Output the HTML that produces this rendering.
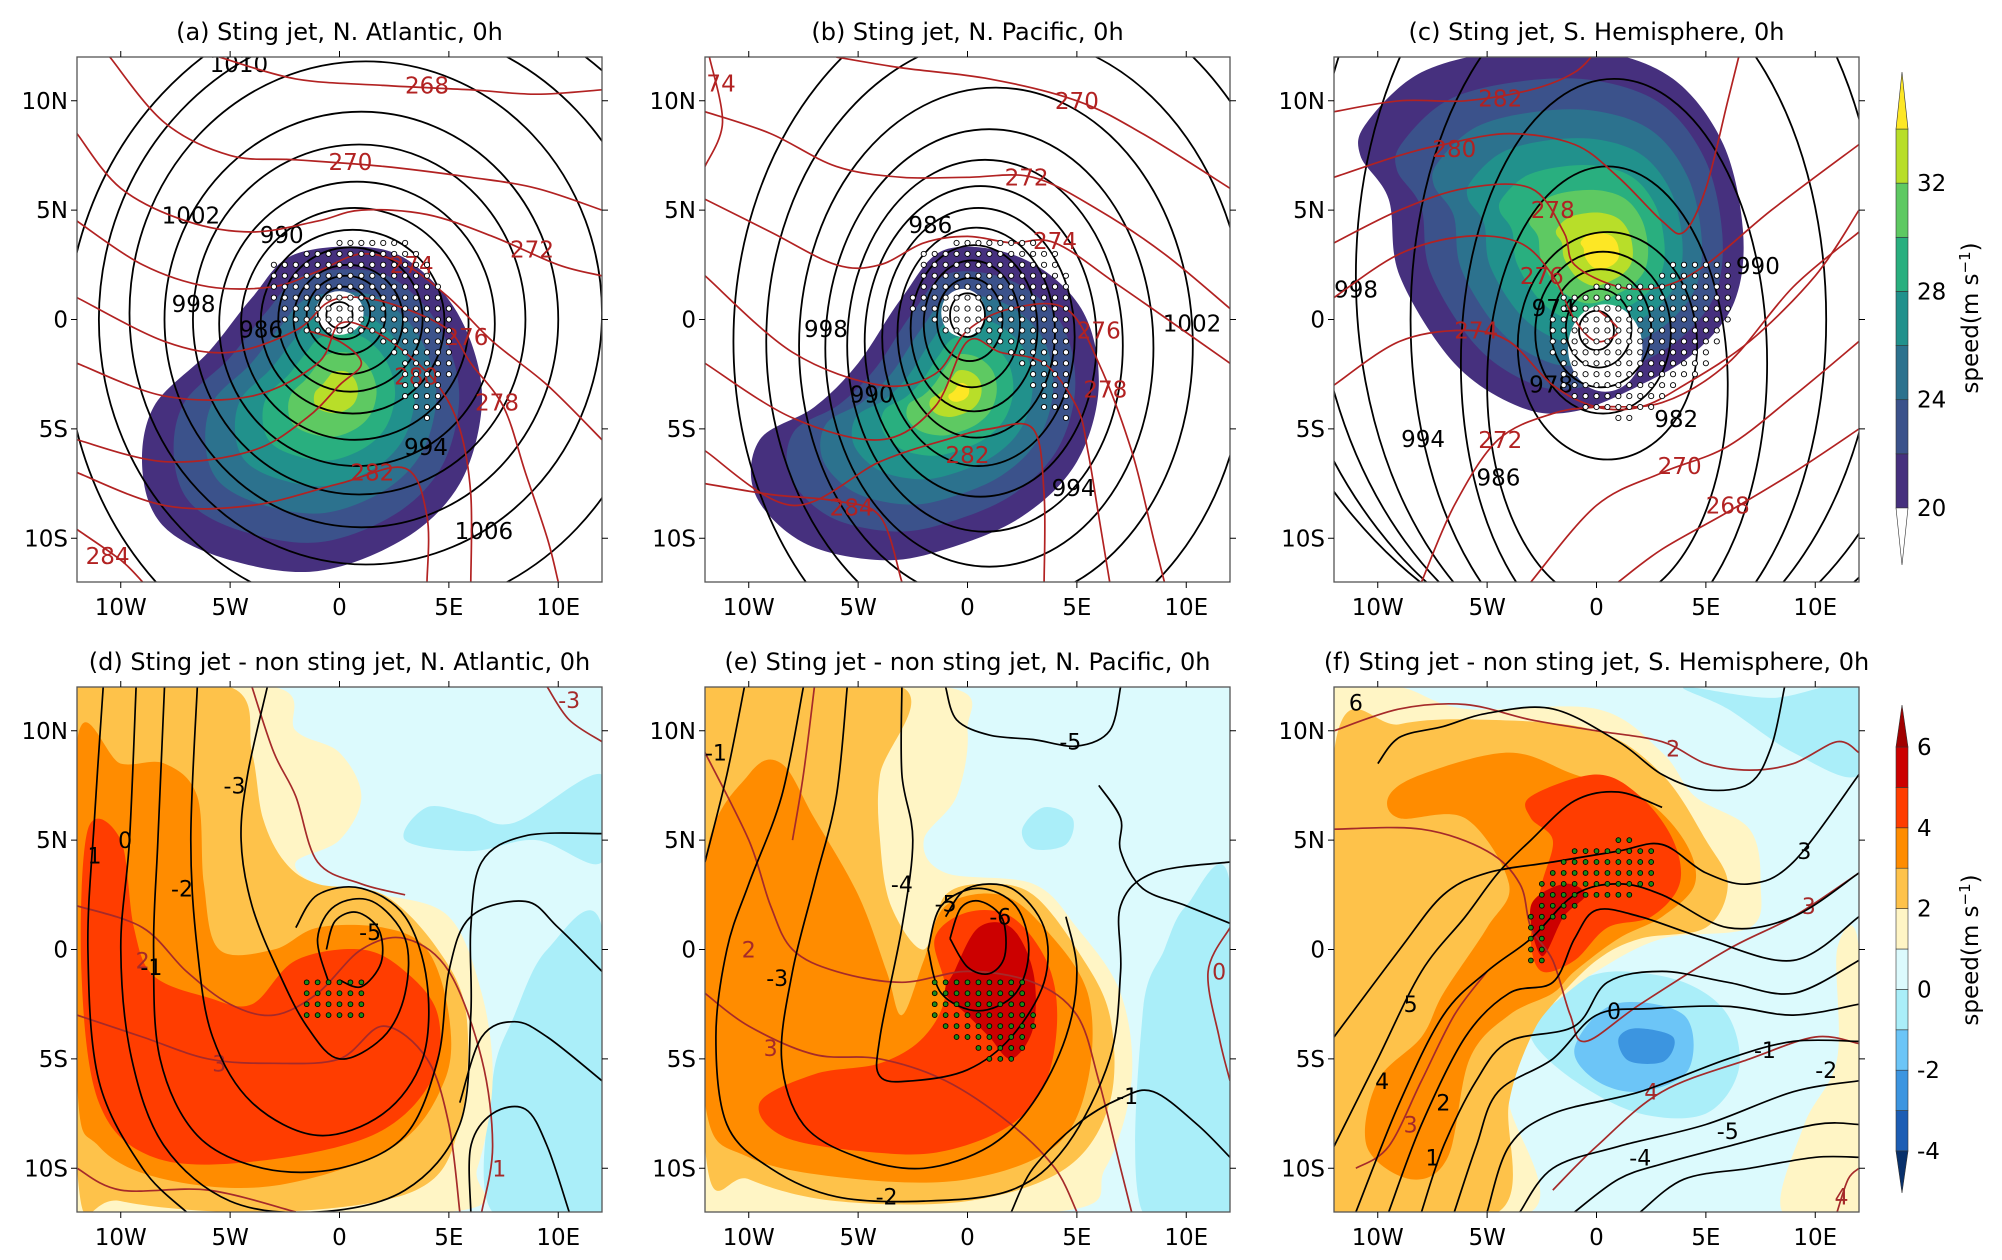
<!DOCTYPE html>
<html><head><meta charset="utf-8">
<style>
html,body{margin:0;padding:0;background:#fff;}
svg{display:block;font-family:"DejaVu Sans","Liberation Sans",sans-serif;}
</style></head>
<body>
<svg id="fig" width="2002" height="1260" viewBox="0 0 2002 1260" xmlns="http://www.w3.org/2000/svg"></svg>
<script>
// ---------- DATA ----------
const xTickVals = [-10,-5,0,5,10];
const xTickLabels = ['10W','5W','0','5E','10E'];
const yTickVals = [10,5,0,-5,-10];
const yTickLabels = ['10N','5N','0','5S','10S'];

const speedLevels = [20,22,24,26,28,30,32];
const speedColors = ['#46307e','#3b528b','#2c728e','#21918c','#29af7f','#5ec962','#b8de29','#fde725'];
const speedTickVals = [20,24,28,32];

const diffLevels = [-4,-3,-2,-1,0,1,2,3,4,5];
const diffColors = ['#1c5db4','#3c95e0','#6cc5f7','#aaeef9','#dcfafd','#fff5c5','#fec24a','#ff8c00','#ff3d00','#cc0000'];
const diffTickVals = [-4,-2,0,2,4,6];

const titles = ['(a) Sting jet, N. Atlantic, 0h','(b) Sting jet, N. Pacific, 0h','(c) Sting jet, S. Hemisphere, 0h',
 '(d) Sting jet - non sting jet, N. Atlantic, 0h','(e) Sting jet - non sting jet, N. Pacific, 0h','(f) Sting jet - non sting jet, S. Hemisphere, 0h'];

const aOutline = [[-2,3],[2,3.2],[4.5,1.5],[6,-1],[6.5,-4],[5.5,-7.5],[3,-10],[-1,-11.5],[-5,-11],[-8,-9.5],[-9,-7],[-8.5,-4],[-6,-1.5],[-4,1]];
const aCore = [0,-3.2];
const aScales = [1,0.84,0.68,0.53,0.39,0.26,0.13];
const aHole = [0,0.3,1.1,1.0];
const bOutline = [[-1,3.2],[2.5,2.8],[5.2,0.5],[6,-3],[5,-6.5],[2.5,-9],[-1,-10.5],[-4,-11],[-7.5,-10.2],[-9.7,-8],[-9.5,-5.5],[-7,-4],[-5,-2],[-3,1]];
const bCore = [-0.3,-3.3];
const bScales = [1,0.83,0.67,0.52,0.38,0.26,0.15,0.06];
const bHole = [-0.2,0.3,1.0,1.1];
const cOutline = [[-10.5,9],[-8,11.3],[-4,12.3],[0,12.3],[3.5,11],[5.8,8],[6.7,4],[6.3,0.8],[4.5,-1.5],[2,-3],[-1,-4.2],[-3.5,-4],[-6.5,-2],[-9,2],[-9.5,5.5],[-10.8,7.5]];
const cCore = [0.4,3.0];
const cScales = [1,0.85,0.7,0.56,0.43,0.31,0.2,0.1];
const cHole = [0.4,-1.3,1.7,2.0];

const aIsobars = [[966,0.6,0.6,0,0.2],[970,1.2,1.2,0.2,0.3],[974,1.8,1.8,0.3,0.2],[978,2.5,2.5,0.4,0],[982,3.3,3.3,0.5,0],[986,4.2,4.2,0.6,-0.1],[990,5.2,5.3,0.7,-0.2],[994,6.3,6.5,0.8,-0.2],[998,7.6,8,0.9,0],[1002,9,9.5,1,0],[1006,10.8,11.5,1.2,0.3],[1010,12.8,13.5,1.8,0],[1014,15,16,2.5,-1]];
const aIsoLabels = [[990,130],[998,175],[986,185],[1002,150],[1006,300],[994,300],[1010,120],[1014,260]];
const bIsobars = [[966,0.8,1.0,0,0.2],[970,1.5,1.9,0.1,0],[974,2.2,2.9,0.2,-0.2],[978,2.9,3.8,0.3,-0.4],[982,3.6,4.8,0.4,-0.6],[986,4.4,5.9,0.5,-0.8],[990,5.3,7.1,0.6,-1],[994,6.3,8.5,0.8,-1.2],[998,7.5,10,1,-1.3],[1002,9,11.8,1.3,-1.2],[1006,11,14,1.8,-1],[1010,13,16.5,2.3,-1]];
const bIsoLabels = [[990,200],[998,175],[994,310],[1002,5],[1006,300],[1010,275],[986,120]];
const cIsobars = [[966,0.8,0.9,0,-0.5],[970,1.5,1.8,0.1,-0.4],[974,2.3,2.7,0.2,-0.4],[978,3.1,3.7,0.3,-0.6],[982,4.1,5.2,0.5,-1.2],[986,5.5,10,0.5,-3],[990,7,13,0.8,-2],[994,9.5,16,1,0],[998,12,18,1,2],[1002,14.5,20,1.5,4],[1006,17,22,2,6],[1010,20,24,3,8]];
const cIsoLabels = [[982,320],[990,20],[986,205],[994,200],[998,182],[1002,130],[978,220],[974,160]];

const aTheta = [
 [268,[4,10.7],[[-5.5,12],[-2,11],[2,10.7],[6,10.5],[9,10.3],[12,10.5]]],
 [270,[0.5,7.2],[[-10.5,12],[-8,9],[-5,7.5],[-2,7.3],[2,7],[6,6.5],[9,6],[12,5]]],
 [272,[8.8,3.2],[[-12,8.5],[-10,6],[-7,4.5],[-4,4],[-1,4.5],[1,5],[4,4.8],[7,3.8],[10,2.5],[12,2]]],
 [274,[3.3,2.5],[[-12,4.5],[-9,2.5],[-6,1.5],[-3,1.5],[-1,2.2],[1,3],[3,2.5],[5,1],[7,-1],[9.5,-3],[12,-5.5]]],
 [276,[5.8,-0.8],[[-12,1],[-8,-1],[-5,-1.5],[-2,-0.5],[-0.5,0.8],[1,1],[3,0.5],[5,-0.5],[6,-2],[7.5,-4],[8.5,-7],[9.5,-10],[10,-12]]],
 [278,[7.2,-3.8],[[-12,-2],[-8,-3.5],[-4,-3.5],[-1,-2],[0,-0.2],[1.5,-0.5],[3,-1.5],[4.5,-3],[5.5,-5],[6,-8],[6,-12]]],
 [280,[3.5,-2.6],[[-12,-5.5],[-8,-6.5],[-4,-6],[-1.5,-4.5],[0,-3],[1,-2],[0,-1],[-1.5,-0.5]]],
 [282,[1.5,-7],[[-12,-7],[-8,-8.5],[-4,-8.5],[0,-7.5],[3,-6.8],[4,-9],[4,-12]]],
 [284,[-10.6,-10.8],[[-12,-9.6],[-10,-11],[-9,-12]]]];
const bTheta = [
 [270,[5,10],[[-6,12],[-3,11.5],[1,11],[5,10],[8,8.5],[12,6]]],
 [272,[2.7,6.5],[[-12,9.5],[-9,8.5],[-6,7],[-3,6.5],[0,6.5],[3,6.5],[6,5],[9,3],[12,0.5]]],
 [274,[4,3.6],[[-12,5.5],[-9,4],[-6,2.5],[-4,2.5],[-2,3.5],[0,3.8],[2,3.5],[4,3.5],[7,1.5],[12,-2]]],
 [276,[6,-0.5],[[-12,2],[-8,-1.5],[-4,-3],[-1.5,-2.5],[0,-0.5],[2,0.5],[4.5,0.5],[6,-2],[7.5,-6],[8.5,-10],[9,-12]]],
 [278,[6.3,-3.2],[[-12,-2],[-8,-4.5],[-4,-5.5],[-1.5,-4],[0,-1],[1.5,-1.5],[3.5,-2],[5,-4],[5.5,-6],[6,-9],[6.5,-12]]],
 [282,[0,-6.2],[[-12,-6],[-8,-8.5],[-4,-6.5],[-1,-5.5],[1,-5],[3,-5],[3.5,-8],[3.5,-12]]],
 [284,[-5.3,-8.6],[[-12,-7.5],[-9,-8],[-6,-8.3],[-4,-9],[-3,-12]]],
 [274,[-11.6,10.8],[[-11.8,12],[-11.2,9],[-12,7]]]];
const cTheta = [
 [268,[6,-8.5],[[12,-5],[9,-7],[6,-8.8],[3,-10.5],[1,-12]]],
 [270,[3.8,-6.7],[[12,-1],[9,-3.5],[6,-5.8],[3,-7],[0,-8.5],[-3,-12]]],
 [272,[-4.4,-5.5],[[12,4],[9,1.5],[6,-2],[3,-3.8],[0,-4],[-2,-4.3],[-4.5,-5.5],[-6.5,-8.5],[-8,-12]]],
 [274,[-5.5,-0.5],[[-12,-3],[-9,-1],[-6,-0.5],[-4,-1],[-2,-3],[0,-4],[2,-4],[4,-3],[7,-1],[10,2],[12,5]]],
 [276,[-2.5,2],[[-12,1],[-9,3],[-6,3.8],[-3.5,3.5],[-2,2],[-1,0],[0,-1],[1,-0.5],[0,0.5]]],
 [278,[-2,5],[[-12,3.5],[-9,5],[-6,6],[-3,6],[-1.5,4],[-1,2.5],[1,1.5],[3,1.5],[5,2.5],[8,5],[12,8]]],
 [280,[-6.5,7.8],[[-12,6.5],[-9,7.5],[-7,8],[-4,8.5],[-1,8],[1,6.5],[3,4.5],[4,4],[5,6],[6,10],[6.5,12]]],
 [282,[-4.4,10.1],[[-12,9.5],[-9,10],[-6,10],[-3,10.5],[-1,11.3],[0,12.3]]]];

const aStip = [[-3,2.6],[0,3.6],[3,3.6],[4.5,2],[5.5,0],[5.2,-2.5],[4.2,-4.8],[3,-3.5],[2.5,-1.5],[1,-0.5],[-1,-0.8],[-2.5,0],[-3,1]];
const bStip = [[-2.2,3.2],[1,3.9],[4,3.4],[5,1],[5,-2],[4.6,-4.6],[3.5,-4],[2.5,-2],[1,-1],[-1,-0.6],[-2.6,0.5]];
const cStip = [[-1.8,1.2],[0,1.6],[2,1.6],[4.3,3],[6.2,3],[6.2,0],[5,-2.2],[3,-3.8],[1.5,-4.6],[-0.5,-4.3],[-1.9,-2.6],[-2.1,-0.5]];
const dStip = [[-1.8,-1.4],[1.2,-1.4],[1.2,-3.1],[-1.8,-3.1]];
const eStip = [[-1.8,-1.3],[2.6,-1.3],[3.3,-3.5],[2.2,-5.1],[0.8,-5.1],[-1.5,-3.2]];
const fStip = [[-3.2,0.2],[-2.8,2.8],[-1.2,4.5],[1.2,5.2],[2.8,4.7],[2.8,2.8],[1,2.2],[-0.8,2.1],[-2,1],[-2.5,-0.6],[-3.2,-0.6]];

const dFills = [
 [3,[[3,5],[4,6.5],[6,6.2],[8,5.8],[12,8],[12,4],[9,5],[6,4.5]]],
 [3,[[7,-12],[7,-6],[8,-3],[9.5,0],[12,1],[12,-12]]],
 [5,[[-12,12],[-3,12],[-2,10],[0,9],[1,7],[0,5],[-2,4],[-1,3],[2,2.5],[5,1.5],[6.5,-2],[7,-6],[6.3,-10],[5,-12],[-12,-12]]],
 [6,[[-12,12],[-5,12],[-4,9],[-3.5,6],[-2.5,4],[-1,3],[2,2.5],[4.5,0],[5.8,-3],[5.5,-8],[3.5,-11],[-3,-12],[-10,-11.5],[-12,-10]]],
 [7,[[-12,9.5],[-10,8.5],[-8,8.5],[-6.5,7],[-6.2,3],[-5.5,0],[-3,0],[-1,1],[2,1],[4,0],[5,-3],[4.8,-6],[2.5,-9],[-3,-10.8],[-8,-10.5],[-11,-9],[-12,-6]]],
 [8,[[-11.5,5.5],[-10,5],[-9.4,1],[-8.5,-1.2],[-6,-2.2],[-4,-2.5],[-2,-0.5],[1,0],[3,-1],[4.5,-3],[4.2,-6],[1.5,-8.5],[-4,-9.7],[-8.5,-9.5],[-11,-7],[-11.8,-1]]]];
const eFills = [
 [3,[[8,-12],[8,-3],[9,0],[10,2],[12,3],[12,-12]]],
 [3,[[2.5,5.5],[3.5,6.5],[4.8,6],[4.5,4.8],[3,4.6]]],
 [5,[[-12,12],[-1,12],[0,10],[-0.5,7],[-2,5],[-1,3.5],[3,3],[5,1],[7,-2],[7.5,-6],[6.3,-10],[4,-12],[-12,-12]]],
 [6,[[-12,12],[-3,12],[-4,8],[-4,5],[-3.5,2],[-2,0],[-1,2.5],[1,3],[3,2.5],[5,0],[6.5,-3],[6.5,-7],[4.5,-10],[0,-11.5],[-6,-11.5],[-10,-10.5],[-12,-9]]],
 [7,[[-12,4],[-10,8],[-8.5,8.5],[-7,6],[-5,2.5],[-3.7,-1],[-3,-3],[-2,-0.5],[-1,2],[1.5,2.5],[3.5,1],[5.5,-2],[5.5,-6],[4,-9],[0,-10.5],[-5,-10.5],[-10,-9.5],[-12,-7]]],
 [8,[[-9.5,-7],[-7,-5.7],[-4,-5.2],[-2,-4],[-1,-2],[-1.5,0.5],[0,1.7],[2,1.5],[3.6,-0.5],[4.1,-3],[3.6,-6],[2,-8],[-1,-9.2],[-4,-9.3],[-8.3,-8.6]]],
 [9,[[-0.6,-1],[0.5,1],[2,1],[3,-1],[3,-3.6],[2,-5],[1,-4],[0,-3],[-1,-2]]]];
const fFills = [
 [3,[[-1,-1.5],[1,-1],[4,-1.5],[6,-3],[6.5,-5.5],[5,-7.5],[2,-7.5],[-1,-6],[-3,-4],[-2,-2.5]]],
 [3,[[4,12],[8,11.5],[12,12],[12,8],[9,9],[6,11]]],
 [2,[[0.8,-2.5],[4,-3],[4.2,-5.5],[2,-6.5],[0,-6],[-1,-4.5]]],
 [1,[[1.8,-3.6],[3.5,-4],[3.1,-5.1],[1.5,-5.1],[1,-4.1]]],
 [5,[[-12,12],[-9,12],[-6,11],[0,11],[3,9],[4.5,7],[7,5.5],[7.5,3],[7,1],[3,0.5],[0,-1],[-2,-2.5],[-4,-4],[-4,-7],[-3,-12],[-12,-12]]],
 [5,[[11,0],[12,0],[12,-12],[8.5,-12],[9.5,-8],[11,-5]]],
 [6,[[-12,9],[-9,10.3],[-5,10.5],[0,10],[3,8],[5,5],[6,3],[5,1],[2,0.5],[0,-0.5],[-2,-2.5],[-3,-4],[-4,-7],[-4.5,-12],[-12,-12]]],
 [7,[[-9.5,7],[-8,8],[-4,9],[-1,8],[2,7],[4,5],[4.5,3],[3,1.5],[1,0.5],[-1,-1],[-2,-2],[-4,-3],[-5.8,-5],[-6.8,-9.5],[-8.5,-10.5],[-10.5,-9],[-10,-6],[-8,-4],[-7,-2],[-5,1],[-4,3],[-6,6],[-9,6]]],
 [8,[[-3,7],[0,8],[2,7],[3.5,5],[3.8,3],[2.5,1.5],[0.5,1],[-1,-0.5],[-2.5,-1],[-3,0.5],[-2.5,3],[-2,5],[-3,6]]],
 [9,[[-3,2],[-1.5,3],[-0.5,2.5],[-1.5,1.5],[-2.5,-0.3]]]];

const dLines = [
 ['1',[-11.2,4.3],[[-10.8,12],[-11.2,6],[-11.5,0],[-11,-6],[-9,-10],[-7,-12]]],
 ['0',[-9.8,5],[[-9.3,12],[-9.6,5],[-10,0],[-9.5,-5],[-8,-9],[-5,-11.5],[-1,-12],[3,-11],[5.5,-8],[6,-3],[6,1],[6.5,4],[8.5,5.2],[12,5.3]]],
 ['-1',[-8.6,-0.8],[[-8,12],[-8.3,5],[-8.5,0],[-8.2,-5],[-6.5,-8.5],[-3.5,-10],[0,-10],[3,-8.5],[4.5,-5],[5,-1],[6,1.5],[8.5,2.2],[10,1],[12,-1]]],
 ['-2',[-7.2,2.8],[[-6.5,12],[-6.8,5],[-6.5,0],[-5.8,-4],[-4,-7],[-1,-8.5],[2,-7.5],[3.8,-5],[4,-1.5],[3,1.5],[1,2.8],[-1,2.5],[-2,1]]],
 ['-3',[-4.8,7.5],[[-3.3,12],[-4.2,8],[-4.5,5],[-4,2],[-2.8,-1],[-1.5,-3.5],[0,-5],[2,-4],[3,-2],[3,0.5],[1.5,2.2],[-0.2,2],[-1,0.5],[-0.5,-1.5]]],
 ['-5',[1.4,0.8],[[-0.6,0],[-0.2,1.3],[0.8,1.7],[1.8,0.9],[1.9,-0.6],[1,-1.7],[0,-1.4]]],
 ['',[0,0],[[6,-12],[6,-9],[7,-7.5],[8.5,-7.3],[9.5,-9],[10.5,-12]]],
 ['',[0,0],[[5.5,-7],[6.5,-4],[8,-3.3],[9.5,-4],[12,-6]]]];
const eLines = [
 ['-1',[-11.5,9],[[-10.2,12],[-11,8],[-12,4]]],
 ['-2',[-3.7,-11.3],[[-7.5,12],[-8.5,7],[-10,3],[-11,0],[-11.5,-4],[-11,-8],[-9,-10],[-6,-11.3],[-2,-11.5],[2,-11],[4.5,-9],[6.5,-5],[7,-1],[7,2],[8.5,3.5],[12,4]]],
 ['-3',[-8.7,-1.3],[[-5.5,12],[-6,7],[-7,3],[-8,-1],[-8.5,-5],[-7.5,-8],[-5,-9.5],[-2,-10],[1,-9],[3,-7],[4.5,-4],[5,-1],[4.5,1.5]]],
 ['-4',[-3,3],[[-3,12],[-3,8],[-2.5,5],[-3,1],[-4,-4],[-4,-5.8],[-2.5,-6],[0,-5.5],[2,-4],[3.5,-1.5],[3.5,1],[2,2.8],[0,2.8],[-1,1.5]]],
 ['-5',[-1,2.1],[[-1.8,0],[-1.2,2],[0.5,2.8],[2.2,2],[2.8,0],[2.2,-2],[0.5,-2.8],[-1.2,-2],[-1.8,0]]],
 ['-6',[1.5,1.5],[[-0.8,0.5],[-0.3,1.9],[0.6,2.2],[1.6,1.4],[1.7,-0.3],[1,-1.1],[0,-0.8],[-0.8,0.5]]],
 ['-5',[4.7,9.5],[[-1,12],[-0.5,10.5],[1,9.8],[3,9.6],[5,9.3],[6.5,10],[7,12]]],
 ['-1',[7.3,-6.7],[[12,-9.5],[10.5,-8],[8.5,-6.5],[7,-6.8],[5,-8],[3,-10],[2,-12]]],
 ['',[0,0],[[12,1.2],[10,2],[8,2.8],[7,4.5],[7,6],[6,7.5]]]];
const fLines = [
 ['3',[9.5,4.5],[[-12,-4],[-9,0],[-7,2.5],[-5,3.5],[-2,4],[1,4.5],[3,4.8],[5,3.5],[7,3],[9,4],[12,8]]],
 ['4',[-9.8,-6],[[-11,-12],[-9,-7],[-7,-3],[-5,-1],[-3,0.5],[-1,2.5],[1,3],[3,2.5],[6,1],[9,1.5],[12,3.5]]],
 ['5',[-8.5,-2.5],[[-12,-9],[-10,-5],[-8,-1],[-6,1.5],[-4.5,3.5],[-3,5],[-1,6.8],[1,7.2],[3,6.5]]],
 ['2',[-7,-7],[[-9.5,-12],[-8,-8],[-6,-4],[-4,-2],[-2,-1.5],[-1,0.5],[0,1.8],[2,1.5],[5,0.5],[9,-0.5],[12,1.5]]],
 ['1',[-7.5,-9.5],[[-8,-12],[-7,-9],[-5.5,-6],[-4,-4.2],[-1,-3.5],[0.5,-1.5],[3,-1],[6,-1.5],[9,-2],[12,-0.5]]],
 ['0',[0.8,-2.8],[[-6.5,-12],[-5.5,-9],[-4.5,-6.5],[-2,-5],[0,-3],[2.5,-2.7],[6,-2.6],[9,-3],[12,-2.5]]],
 ['-1',[7.7,-4.6],[[-5,-12],[-4,-9],[-2,-7.5],[2,-6.5],[6,-5],[9,-4.2],[12,-4.2]]],
 ['-2',[10.5,-5.5],[[-3.5,-12],[-2,-10],[1,-9],[5,-8],[9,-6.5],[12,-6]]],
 ['-4',[2,-9.5],[[-1,-12],[1,-10.5],[3,-9.8],[6,-9],[10,-8],[12,-8]]],
 ['-5',[6,-8.3],[[2,-12],[4,-10.5],[7,-10],[10,-9.5],[12,-9.5]]],
 ['6',[-11,11.3],[[-10,8.5],[-9,9.7],[-7,10.2],[-5,10.8],[-2,11],[1,9.5],[3,8],[5,7.3],[7,7.6],[8,9.3],[8.6,12]]]];
const dRed = [
 ['2',[-9,-0.5],[[-12,2],[-9,1],[-7,-1],[-5,-2.5],[-3,-3],[-1,-2],[1,0],[3,0.5],[5,-1],[6.5,-5],[7,-9],[6.5,-12]]],
 ['3',[-5.5,-5.2],[[-12,-3],[-9,-4],[-6,-5],[-3,-5.2],[0,-5],[2,-3.5],[4,-5],[5,-8],[5.5,-12]]],
 ['1',[7.3,-10],[[-12,-10],[-10,-11],[-6,-11],[-2,-12]]],
 ['-3',[10.5,11.4],[[9.5,12],[10.5,10.5],[12,9.5]]],
 ['',[0,0],[[-4,12],[-3,9],[-2,7],[-1,4],[1,3],[3,2.5]]]];
const eRed = [
 ['2',[-10,0],[[-12,9],[-10,5],[-9,2],[-8,0],[-6,-1],[-3,-1.5],[0,-1],[3,-1.5],[5,-3],[6,-6],[7,-10],[7.5,-12]]],
 ['3',[-9,-4.5],[[-12,-2],[-10,-3.5],[-7,-4.8],[-4,-5],[-1,-6],[2,-8],[4,-10],[5,-12]]],
 ['0',[11.5,-1],[[12,1],[11,-1],[11.5,-4],[12,-6]]],
 ['',[0,0],[[-7,12],[-7.5,8],[-8,5]]]];
const fRed = [
 ['2',[3.5,9.2],[[-12,10],[-9,11],[-6,11.2],[-3,10.5],[0,10],[3,9.5],[5,8.5],[7,8.2],[9,8.5],[11,9.5],[12,9]]],
 ['3',[9.7,2],[[-12,5.5],[-8,5.5],[-5,4.5],[-3.5,3],[-3,1],[-2,-0.5],[-1.2,-3],[-0.5,-4.2],[2,-2.5],[6,0],[9,1.5],[12,3.5]]],
 ['3',[-8.5,-8],[[-11,-10],[-9.5,-9],[-8,-6],[-6.5,-3],[-5,-1]]],
 ['4',[2.5,-6.5],[[-2,-11],[0,-9],[3,-6.5],[7,-5],[10,-4],[12,-4.3]]],
 ['4',[11.2,-11.3],[[11,-12],[11.5,-10.5],[12,-10]]]];

// ---------- LAYOUT ----------
const NS = 'http://www.w3.org/2000/svg';
const svg = document.getElementById('fig');
const PW = 525;
const panels = [
 {L:77,T:57,title:titles[0]},{L:705,T:57,title:titles[1]},{L:1334,T:57,title:titles[2]},
 {L:77,T:687,title:titles[3]},{L:705,T:687,title:titles[4]},{L:1334,T:687,title:titles[5]}];
function X(p,lon){return p.L+(lon+12)/24*PW;}
function Y(p,lat){return p.T+(12-lat)/24*PW;}
function mk(tag,attrs,parent){const e=document.createElementNS(NS,tag);for(const k in attrs)e.setAttribute(k,attrs[k]);(parent||svg).appendChild(e);return e;}
function smooth(pts,closed){
 const n=pts.length;let d='M'+pts[0][0].toFixed(1)+','+pts[0][1].toFixed(1);
 const segs=closed?n:n-1;
 for(let i=0;i<segs;i++){
  const p0=closed?pts[(i-1+n)%n]:pts[Math.max(i-1,0)];
  const p1=pts[i],p2=pts[(i+1)%n];
  const p3=closed?pts[(i+2)%n]:pts[Math.min(i+2,n-1)];
  const c1=[p1[0]+(p2[0]-p0[0])/6,p1[1]+(p2[1]-p0[1])/6];
  const c2=[p2[0]-(p3[0]-p1[0])/6,p2[1]-(p3[1]-p1[1])/6];
  d+='C'+c1[0].toFixed(1)+','+c1[1].toFixed(1)+' '+c2[0].toFixed(1)+','+c2[1].toFixed(1)+' '+p2[0].toFixed(1)+','+p2[1].toFixed(1);
 }
 return d+(closed?'Z':'');
}
function toPx(p,pts){return pts.map(q=>[X(p,q[0]),Y(p,q[1])]);}
function inPoly(x,y,poly){let c=false;for(let i=0,j=poly.length-1;i<poly.length;j=i++){const xi=poly[i][0],yi=poly[i][1],xj=poly[j][0],yj=poly[j][1];if(((yi>y)!=(yj>y))&&(x<(xj-xi)*(y-yi)/(yj-yi)+xi))c=!c;}return c;}

function frame(p,i){
 const cp=mk('clipPath',{id:'clip'+i});
 mk('rect',{x:p.L,y:p.T,width:PW,height:PW},cp);
 const g=mk('g',{'clip-path':'url(#clip'+i+')'});
 
 
 return g;
}
function axes(p,i){
 const ax=mk('g',{});
 
 
 const box=mk('rect',{x:p.L,y:p.T,width:PW,height:PW,fill:'none',stroke:'#555','stroke-width':1.3},ax);
 
 
 xTickVals.forEach((v,k)=>{
  const x=X(p,v);
  mk('line',{x1:x,y1:p.T+PW,x2:x,y2:p.T+PW+6,stroke:'#000','stroke-width':1},ax);
  mk('line',{x1:x,y1:p.T,x2:x,y2:p.T-6,stroke:'#000','stroke-width':1},ax);
  const t=mk('text',{x:x,y:p.T+PW+33,'text-anchor':'middle','font-size':23,fill:'#000'},ax);
  t.textContent=xTickLabels[k];
  
  
 });
 yTickVals.forEach((v,k)=>{
  const y=Y(p,v);
  mk('line',{x1:p.L,y1:y,x2:p.L-6,y2:y,stroke:'#000','stroke-width':1},ax);
  mk('line',{x1:p.L+PW,y1:y,x2:p.L+PW+6,y2:y,stroke:'#000','stroke-width':1},ax);
  const t=mk('text',{x:p.L-9,y:y+8,'text-anchor':'end','font-size':23,fill:'#000'},ax);
  t.textContent=yTickLabels[k];
  
  
 });
 const tt=mk('text',{x:p.L+PW/2,y:p.T-17,'text-anchor':'middle','font-size':24,fill:'#000'},ax);
 tt.textContent=p.title;
 
 
}
function stipple(g,p,poly,style){
 for(let lon=-12;lon<=12;lon+=0.5){for(let lat=-12;lat<=12;lat+=0.5){
  if(inPoly(lon,lat,poly)){
   const c=mk('circle',{cx:X(p,lon),cy:Y(p,lat),r:style==='top'?2.6:2.4,fill:style==='top'?'#fff':'#1a8a1a',stroke:'#000','stroke-width':0.9},g);
   
   
  }}}
}
function redLines(g,p,list,col,fs){
 list.forEach(r=>{
  const path=mk('path',{d:smooth(toPx(p,r[2]),false),fill:'none',stroke:col,'stroke-width':1.7},g);
  
  
  if(r[0]!==''){
   const t=mk('text',{x:X(p,r[1][0]),y:Y(p,r[1][1])+8,'text-anchor':'middle','font-size':fs,fill:col},g);
   t.textContent=r[0];
   
   
  }
 });
}
function drawTop(i,outline,core,scales,hole,isobars,isoLabels,theta,stip){
 const p=panels[i];const g=frame(p,i);
 scales.forEach((s,k)=>{
  const pts=outline.map(q=>[core[0]+(q[0]-core[0])*s,core[1]+(q[1]-core[1])*s]);
  const f=mk('path',{d:smooth(toPx(p,pts),true),fill:speedColors[k]},g);
  
  
 });
 const h=mk('ellipse',{cx:X(p,hole[0]),cy:Y(p,hole[1]),rx:hole[2]*PW/24,ry:hole[3]*PW/24,fill:'#fff'},g);
 
 
 isobars.forEach(b=>{
  const e=mk('ellipse',{cx:X(p,b[3]),cy:Y(p,b[4]),rx:b[1]*PW/24,ry:b[2]*PW/24,fill:'none',stroke:'#000','stroke-width':1.8},g);
  
  
 });
 isoLabels.forEach(l=>{
  const b=isobars.find(q=>q[0]===l[0]);if(!b)return;
  const a=l[1]*Math.PI/180;
  const t=mk('text',{x:X(p,b[3]+b[1]*Math.cos(a)),y:Y(p,b[4]+b[2]*Math.sin(a))+8,'text-anchor':'middle','font-size':23,fill:'#000'},g);
  t.textContent=l[0];
  
  
 });
 redLines(g,p,theta,'#b22222',23);
 stipple(g,p,stip,'top');
 axes(p,i);
}
function drawDiff(i,fills,lines,red,stip){
 const p=panels[i];const g=frame(p,i);
 const bg=mk('rect',{x:p.L,y:p.T,width:PW,height:PW,fill:diffColors[4]},g);
 
 
 fills.forEach(f=>{
  const e=mk('path',{d:smooth(toPx(p,f[1]),true),fill:diffColors[f[0]]},g);
  
  
 });
 redLines(g,p,red,'#a52a2a',22);
 lines.forEach(l=>{
  const e=mk('path',{d:smooth(toPx(p,l[2]),false),fill:'none',stroke:'#000','stroke-width':1.7},g);
  
  
  if(l[0]!==''){
   const t=mk('text',{x:X(p,l[1][0]),y:Y(p,l[1][1])+8,'text-anchor':'middle','font-size':22,fill:'#000'},g);
   t.textContent=l[0];
   
   
  }
 });
 stipple(g,p,stip,'diff');
 axes(p,i);
}
drawTop(0,aOutline,aCore,aScales,aHole,aIsobars,aIsoLabels,aTheta,aStip);
drawTop(1,bOutline,bCore,bScales,bHole,bIsobars,bIsoLabels,bTheta,bStip);
drawTop(2,cOutline,cCore,cScales,cHole,cIsobars,cIsoLabels,cTheta,cStip);
drawDiff(3,dFills,dLines,dRed,dStip);
drawDiff(4,eFills,eLines,eRed,eStip);
drawDiff(5,fFills,fLines,fRed,fStip);

// ---------- COLORBARS ----------
function colorbar(name,x0,w,vTop,vBot,yTop,yBot,levels,colors,step,topCol,botCol,triTop,triBot,ticks,labelY){
 const g=mk('g',{});
 
 
 const sc=v=>yBot-(v-vBot)/(vTop-vBot)*(yBot-yTop);
 levels.forEach((lv,k)=>{
  const r=mk('rect',{x:x0,y:sc(lv+step),width:w,height:sc(lv)-sc(lv+step),fill:colors[k],stroke:'#333','stroke-width':0.6},g);
  
  
 });
 const t1=mk('polygon',{points:`${x0},${yTop} ${x0+w},${yTop} ${x0+w/2},${triTop}`,fill:topCol,stroke:'#333','stroke-width':0.6},g);
 
 
 const t2=mk('polygon',{points:`${x0},${yBot} ${x0+w},${yBot} ${x0+w/2},${triBot}`,fill:botCol,stroke:'#333','stroke-width':0.6},g);
 
 
 ticks.forEach(v=>{
  const t=mk('text',{x:x0+w+9,y:sc(v)+8,'font-size':23,fill:'#000'},g);
  t.textContent=v;
  
  
 });
 const lb=mk('text',{x:1978,y:labelY,'text-anchor':'middle','font-size':23,fill:'#000',transform:`rotate(-90 1978 ${labelY})`},g);
 lb.innerHTML='speed(m s<tspan dy="-8" font-size="15">−1</tspan><tspan dy="8">)</tspan>';
 
 
}
colorbar('speed-colorbar',1896,12,34,20,129,508,speedLevels,speedColors,2,speedColors[7],'#ffffff',72,565,speedTickVals,318);
colorbar('diff-colorbar',1896,12,6,-4,747,1151,diffLevels,diffColors,1,'#a00000','#08306b',705,1193,diffTickVals,950);
</script>
</body></html>
